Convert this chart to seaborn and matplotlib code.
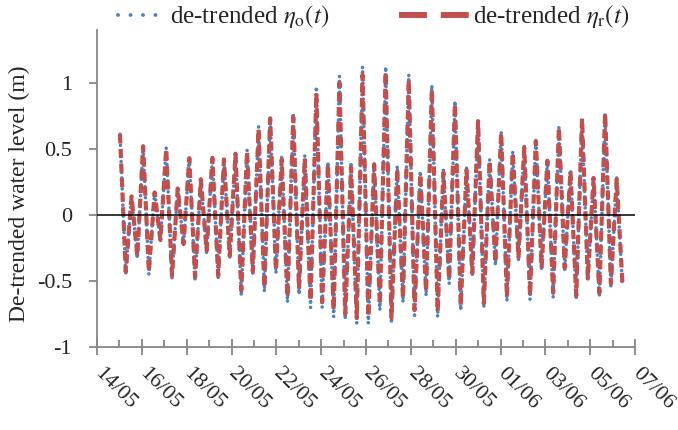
import numpy as np
import pandas as pd
import matplotlib
matplotlib.use('Agg')
import matplotlib.pyplot as plt
import matplotlib.dates as mdates
from matplotlib.lines import Line2D
import seaborn as sns

# ---- data (successive tidal high / low waters) ----
blue_high = [0.61, 0.14, 0.53, 0.18, 0.51, 0.21, 0.44, 0.28, 0.44, 0.43,
             0.47, 0.49, 0.67, 0.74, 0.44, 0.77, 0.45, 0.97, 0.40, 1.05,
             0.38, 1.12, 0.40, 1.12, 0.37, 1.06, 0.33, 0.98, 0.34, 0.86,
             0.36, 0.72, 0.42, 0.63, 0.48, 0.52, 0.57, 0.42, 0.66, 0.34,
             0.73, 0.29, 0.77, 0.28]
blue_low = [-0.45, -0.33, -0.45, -0.20, -0.48, -0.23, -0.50, -0.29, -0.48, -0.33,
            -0.61, -0.45, -0.58, -0.44, -0.66, -0.60, -0.70, -0.70, -0.77, -0.79,
            -0.82, -0.82, -0.72, -0.82, -0.66, -0.76, -0.61, -0.77, -0.52, -0.72,
            -0.46, -0.70, -0.38, -0.65, -0.34, -0.64, -0.42, -0.62, -0.42, -0.64,
            -0.50, -0.62, -0.54, -0.54]
red_high = [0.61, 0.14, 0.52, 0.17, 0.50, 0.20, 0.43, 0.27, 0.43, 0.42,
            0.46, 0.48, 0.65, 0.73, 0.42, 0.74, 0.43, 0.92, 0.38, 1.00,
            0.36, 1.06, 0.38, 1.08, 0.35, 1.02, 0.31, 0.95, 0.32, 0.84,
            0.34, 0.71, 0.41, 0.62, 0.47, 0.51, 0.56, 0.41, 0.66, 0.33,
            0.73, 0.28, 0.77, 0.27]
red_low = [-0.43, -0.31, -0.43, -0.19, -0.46, -0.22, -0.47, -0.27, -0.46, -0.31,
           -0.57, -0.43, -0.55, -0.42, -0.62, -0.56, -0.65, -0.66, -0.72, -0.75,
           -0.78, -0.77, -0.68, -0.78, -0.63, -0.72, -0.58, -0.73, -0.49, -0.69,
           -0.44, -0.67, -0.36, -0.62, -0.32, -0.61, -0.40, -0.59, -0.40, -0.61,
           -0.48, -0.59, -0.52, -0.52]
first_extreme = '2013-05-15 00:37'
extreme_step = '371min'
major_ticks = pd.date_range('2013-05-14', '2013-06-07', freq='2D')
minor_ticks = pd.date_range('2013-05-14', '2013-06-07', freq='1D')
y_ticks = [-1, -0.5, 0, 0.5, 1]
y_tick_labels = ['-1', '-0.5', '0', '0.5', '1']
legend_labels = [r'de-trended $\eta_{\mathrm{o}}(t)$', r'de-trended $\eta_{\mathrm{r}}(t)$']
y_label = 'De-trended water level (m)'


def interleave(highs, lows):
    out = []
    for h, l in zip(highs, lows):
        out += [h, l]
    return out


times = pd.date_range(first_extreme, periods=2 * len(blue_high), freq=extreme_step)
df = pd.DataFrame({'time': times,
                   'obs': interleave(blue_high, blue_low),
                   'rec': interleave(red_high, red_low)})

sns.set_style('white')
plt.rcParams['font.family'] = ['Liberation Serif', 'DejaVu Serif']
plt.rcParams['mathtext.fontset'] = 'stix'
plt.rcParams['axes.unicode_minus'] = False

BLUE = '#4F81BD'
RED = '#C0504D'
GREY = '#868686'

fig = plt.figure(figsize=(6.78, 4.30), dpi=100)
ax = fig.add_axes([97 / 678, 1 - 347 / 430, 538 / 678, 317 / 430])

sns.lineplot(data=df, x='time', y='obs', ax=ax, color=BLUE, estimator=None, sort=False)
sns.lineplot(data=df, x='time', y='rec', ax=ax, color=RED, estimator=None, sort=False)
l_obs, l_rec = ax.lines[0], ax.lines[1]
l_obs.set_linewidth(2.6)
l_obs.set_linestyle((0, (0.01, 1.5)))
l_obs.set_dash_capstyle('round')
l_obs.set_zorder(2)
l_rec.set_linewidth(3.0)
l_rec.set_linestyle((0, (2.2, 1.3)))
l_rec.set_zorder(3)

ax.axhline(0, color='black', lw=1.1, zorder=4)

ax.set_xlim(major_ticks[0], major_ticks[-1])
ax.set_ylim(-1, 1.4)
ax.set_xticks(major_ticks)
ax.set_xticks(minor_ticks, minor=True)
ax.xaxis.set_major_formatter(mdates.DateFormatter('%d/%m'))
ax.set_yticks(y_ticks)
ax.set_yticklabels(y_tick_labels)

ax.tick_params(axis='x', which='major', direction='inout', length=11, width=1.3,
               color=GREY, labelsize=16, pad=12, bottom=True)
ax.tick_params(axis='x', which='minor', direction='in', length=5, width=1.3,
               color=GREY, bottom=True)
ax.tick_params(axis='y', which='major', direction='out', length=6, width=1.3,
               color=GREY, labelsize=16, pad=12, left=True)
for lab in ax.get_xticklabels():
    lab.set_rotation(-45)
    lab.set_ha('left')
    lab.set_va('center')
    lab.set_rotation_mode('anchor')

sns.despine(ax=ax)
for s in ('left', 'bottom'):
    ax.spines[s].set_color(GREY)
    ax.spines[s].set_linewidth(1.3)

ax.set_xlabel('')
ax.set_ylabel(y_label, fontsize=17)
ax.yaxis.set_label_coords(-0.125, 0.483)

h_obs = Line2D([], [], color=BLUE, lw=2.8, linestyle=(0, (0.01, 3.2)), dash_capstyle='round')
h_rec = Line2D([], [], color=RED, lw=4.3, linestyle=(0, (4.67, 2.33)))
fig.legend(handles=[h_obs], labels=[legend_labels[0]], loc='center left',
           bbox_to_anchor=(118 / 678, 1 - 17 / 430), frameon=False, fontsize=18,
           handlelength=1.64, handletextpad=0.45, borderpad=0, borderaxespad=0)
fig.legend(handles=[h_rec], labels=[legend_labels[1]], loc='center left',
           bbox_to_anchor=(399 / 678, 1 - 17 / 430), frameon=False, fontsize=18,
           handlelength=2.8, handletextpad=0.15, borderpad=0, borderaxespad=0)

fig.savefig('out.png', dpi=100)
